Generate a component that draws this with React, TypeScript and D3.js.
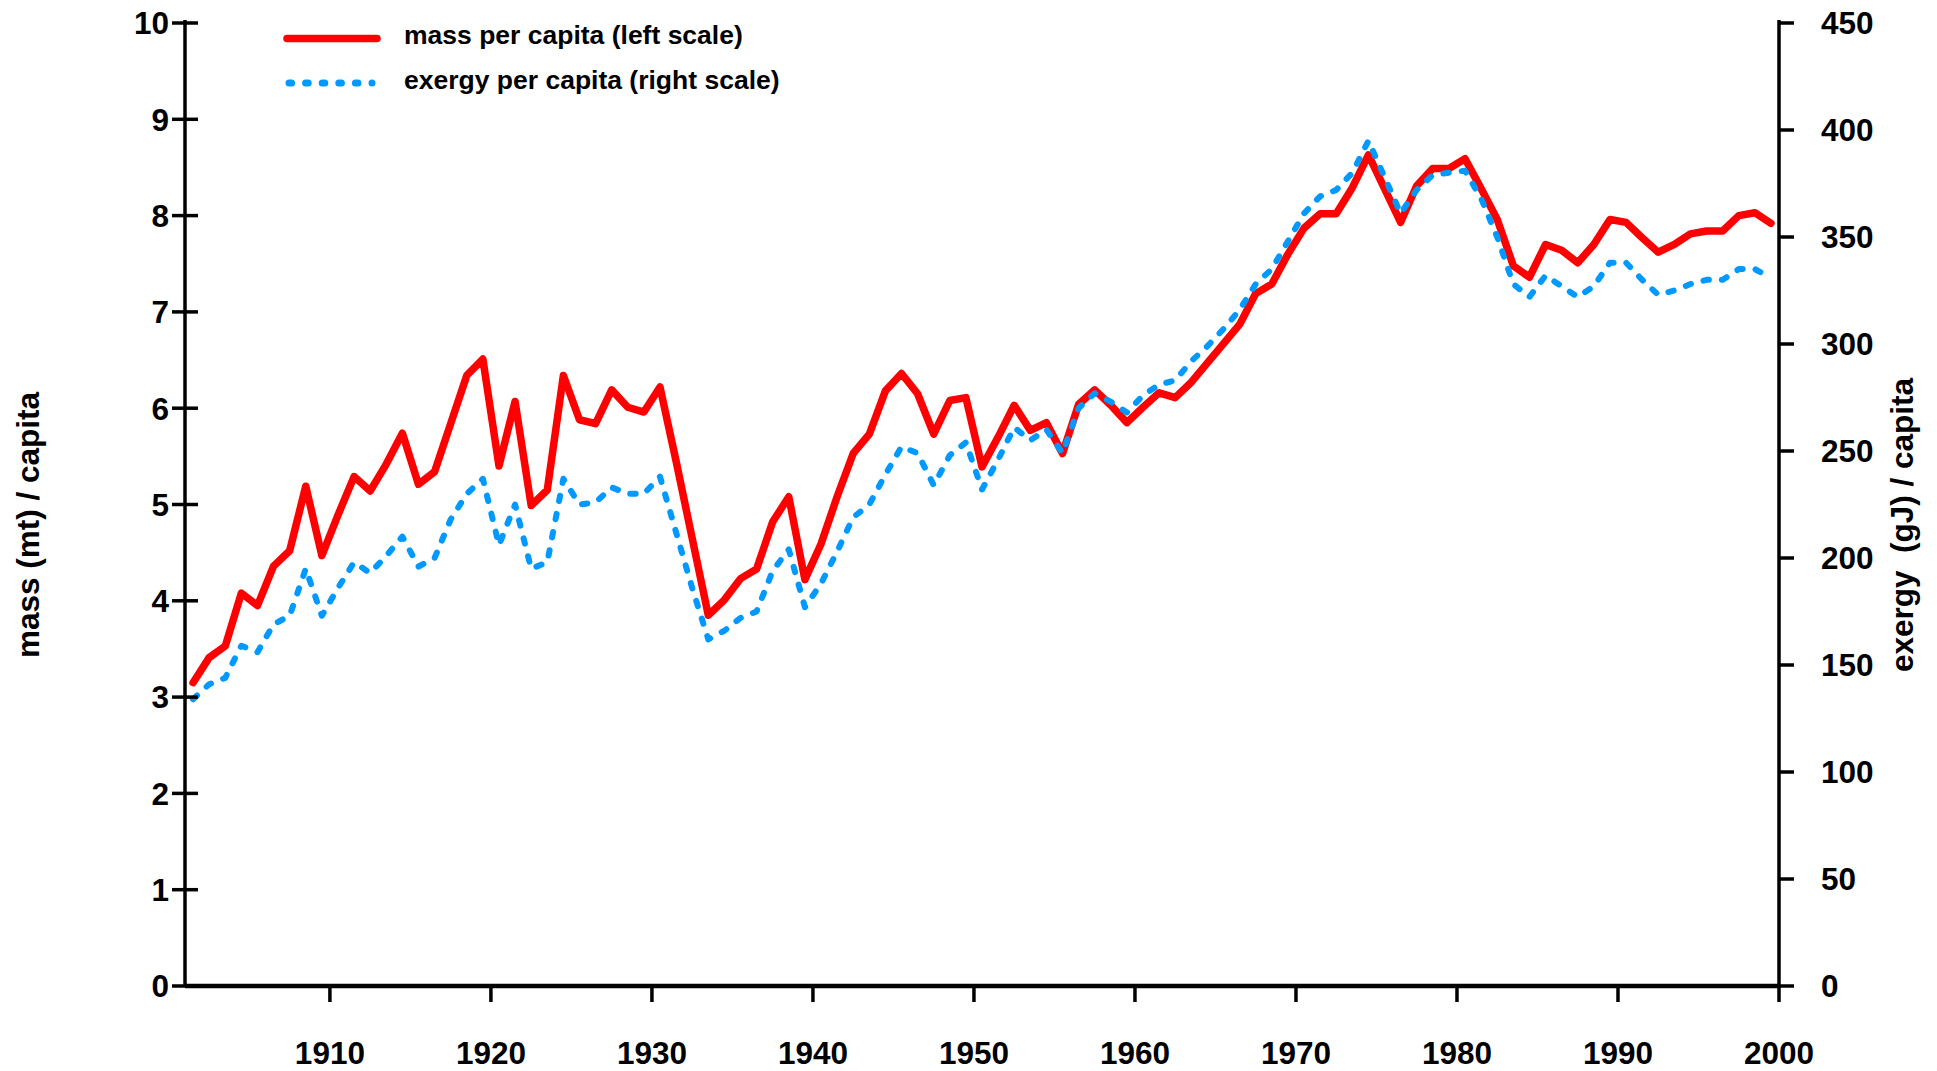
import React from "react";
import * as d3 from "d3";

const years: number[] = d3.range(1901, 2000);

const massPerCapita: number[] = [
  3.15, 3.41, 3.53, 4.08, 3.95, 4.36, 4.52, 5.19, 4.47, 4.89,
  5.29, 5.14, 5.42, 5.74, 5.21, 5.34, 5.84, 6.34, 6.51, 5.40,
  6.07, 4.99, 5.15, 6.34, 5.88, 5.84, 6.19, 6.01, 5.96, 6.22,
  5.45, 4.65, 3.85, 4.01, 4.23, 4.33, 4.82, 5.08, 4.22, 4.59,
  5.08, 5.53, 5.73, 6.18, 6.36, 6.15, 5.73, 6.08, 6.11, 5.39,
  5.70, 6.03, 5.77, 5.85, 5.53, 6.04, 6.19, 6.03, 5.85, 6.01,
  6.16, 6.11, 6.27, 6.47, 6.67, 6.87, 7.19, 7.29, 7.60, 7.87,
  8.02, 8.02, 8.29, 8.63, 8.28, 7.93, 8.31, 8.49, 8.49, 8.59,
  8.28, 7.96, 7.48, 7.36, 7.70, 7.64, 7.51, 7.70, 7.96, 7.93,
  7.77, 7.62, 7.70, 7.81, 7.84, 7.84, 8.00, 8.03, 7.92,
];

const exergyPerCapita: number[] = [
  134, 141, 144, 159, 156, 169, 173, 195, 173, 186,
  198, 193, 201, 210, 196, 200, 218, 230, 237, 206,
  225, 195, 198, 237, 225, 226, 233, 230, 230, 238,
  212, 186, 162, 166, 172, 175, 194, 204, 177, 188,
  203, 219, 225, 239, 252, 249, 234, 248, 254, 232,
  246, 261, 255, 260, 249, 270, 277, 273, 268, 276,
  281, 283, 292, 299, 307, 316, 328, 335, 348, 361,
  369, 372, 380, 395, 378, 361, 372, 379, 380, 381,
  368, 350, 328, 322, 332, 327, 322, 327, 338, 338,
  330, 323, 325, 328, 330, 330, 335, 335, 331,
];

const xTicks: number[] = [1910, 1920, 1930, 1940, 1950, 1960, 1970, 1980, 1990, 2000];
const leftTicks: number[] = [0, 1, 2, 3, 4, 5, 6, 7, 8, 9, 10];
const rightTicks: number[] = [0, 50, 100, 150, 200, 250, 300, 350, 400, 450];

const legendLabels = ["mass per capita (left scale)", "exergy per capita (right scale)"];
const leftTitle = "mass (mt) / capita";
const rightTitle = "exergy  (gJ) / capita";

const W = 1937;
const H = 1071;
const left = 185;
const right = 1779;
const top = 23;
const bottom = 986;

const FONT = "'Liberation Sans', Arial, Helvetica, sans-serif";
const RED = "#ff0000";
const BLUE = "#0099ff";
const FS = 31.5;

export default function App() {
  const x = d3.scaleLinear().domain([1901, 2000]).range([left, right]);
  const yL = d3.scaleLinear().domain([0, 10]).range([bottom, top]);
  const yR = d3.scaleLinear().domain([0, 450]).range([bottom, top]);

  const massLine = d3
    .line<number>()
    .x((_, i) => x(years[i] + 0.5))
    .y((d) => yL(d))(massPerCapita) as string;

  const exergyLine = d3
    .line<number>()
    .x((_, i) => x(years[i] + 0.5))
    .y((d) => yR(d))(exergyPerCapita) as string;

  const axisW = 3.5;

  return (
    <div style={{ position: "absolute", left: 0, top: 0 }}>
      <svg width={W} height={H} style={{ display: "block", background: "#fff" }}>
        {/* data lines */}
        <path d={massLine} fill="none" stroke={RED} strokeWidth={7.5} strokeLinejoin="round" strokeLinecap="round" />
        <path
          d={exergyLine}
          fill="none"
          stroke={BLUE}
          strokeWidth={6}
          strokeDasharray="5.5 13"
          strokeLinecap="round"
          strokeLinejoin="round"
        />

        {/* left axis */}
        <line x1={left} x2={left} y1={top - 3} y2={bottom} stroke="#000" strokeWidth={axisW} />
        {leftTicks.map((t) => (
          <g key={"l" + t}>
            <line x1={left - 13} x2={left + 13} y1={yL(t)} y2={yL(t)} stroke="#000" strokeWidth={axisW} />
            <text
              x={169}
              y={yL(t)}
              dy="0.36em"
              textAnchor="end"
              fontFamily={FONT}
              fontWeight="bold"
              fontSize={FS}
            >
              {t}
            </text>
          </g>
        ))}

        {/* right axis */}
        <line x1={right} x2={right} y1={top - 3} y2={bottom} stroke="#000" strokeWidth={axisW} />
        {rightTicks.map((t) => (
          <g key={"r" + t}>
            <line x1={right} x2={right + 15} y1={yR(t)} y2={yR(t)} stroke="#000" strokeWidth={axisW} />
            <text
              x={1821}
              y={yR(t)}
              dy="0.36em"
              textAnchor="start"
              fontFamily={FONT}
              fontWeight="bold"
              fontSize={FS}
            >
              {t}
            </text>
          </g>
        ))}

        {/* bottom axis */}
        <line x1={left} x2={right} y1={bottom} y2={bottom} stroke="#000" strokeWidth={4.5} />
        {xTicks.map((t) => (
          <g key={"x" + t}>
            <line x1={x(t)} x2={x(t)} y1={bottom} y2={bottom + 16} stroke="#000" strokeWidth={axisW} />
            <text
              x={x(t)}
              y={1064}
              textAnchor="middle"
              fontFamily={FONT}
              fontWeight="bold"
              fontSize={FS}
            >
              {t}
            </text>
          </g>
        ))}

        {/* axis titles */}
        <text
          transform="translate(39,525) rotate(-90)"
          textAnchor="middle"
          fontFamily={FONT}
          fontWeight="bold"
          fontSize={FS}
        >
          {leftTitle}
        </text>
        <text
          transform="translate(1913,525) rotate(-90)"
          textAnchor="middle"
          fontFamily={FONT}
          fontWeight="bold"
          fontSize={FS}
          style={{ whiteSpace: "pre" }}
        >
          {rightTitle}
        </text>

        {/* legend */}
        <line x1={287} x2={377} y1={38.5} y2={38.5} stroke={RED} strokeWidth={7.5} strokeLinecap="round" />
        <line
          x1={289}
          x2={372}
          y1={83}
          y2={83}
          stroke={BLUE}
          strokeWidth={7}
          strokeDasharray="2.6 14"
          strokeLinecap="round"
        />
        <text x={404} y={43.5} fontFamily={FONT} fontWeight="bold" fontSize={26.5}>
          {legendLabels[0]}
        </text>
        <text x={404} y={88.5} fontFamily={FONT} fontWeight="bold" fontSize={26.5}>
          {legendLabels[1]}
        </text>
      </svg>
    </div>
  );
}
